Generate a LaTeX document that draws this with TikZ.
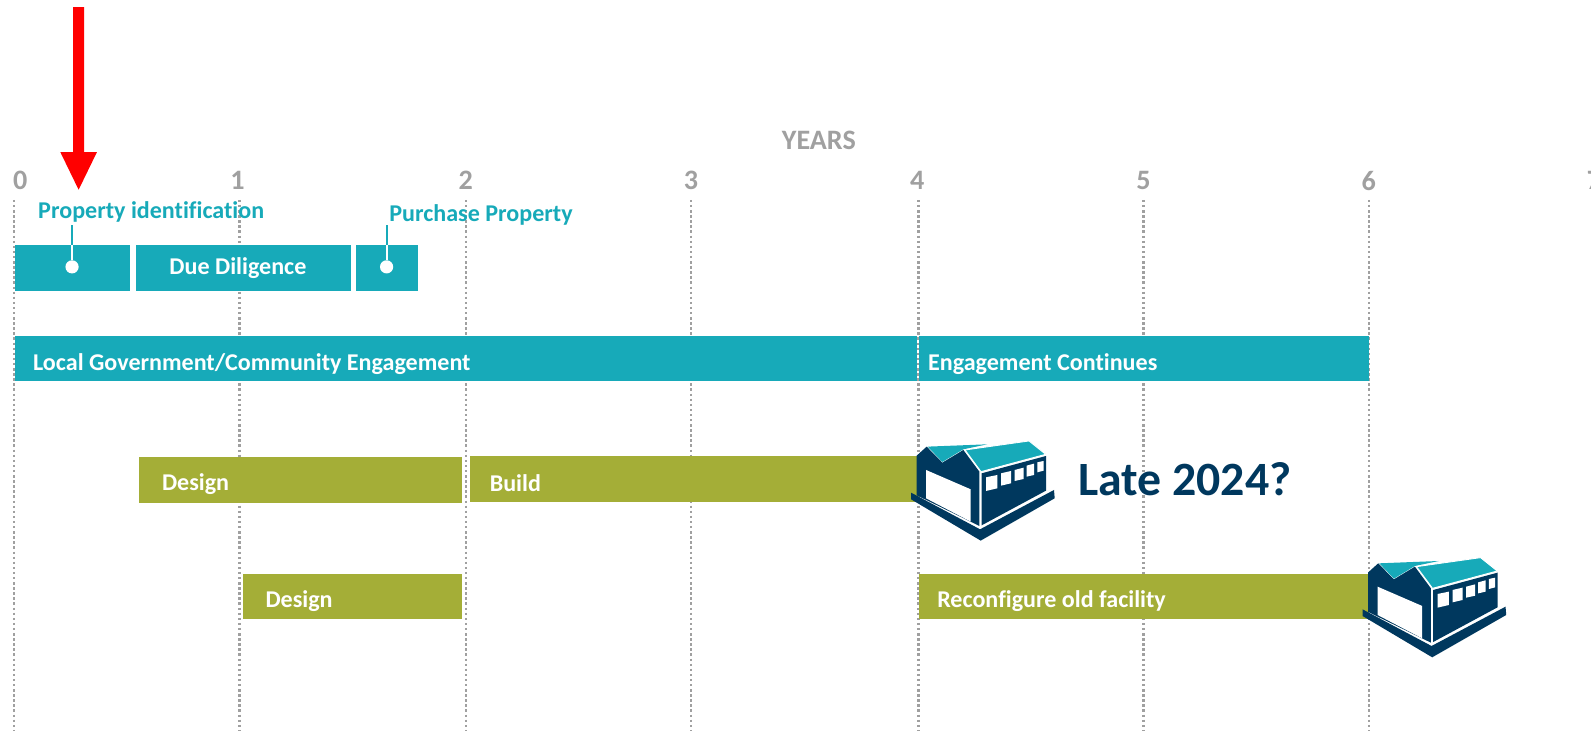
\documentclass[tikz,border=0pt]{standalone}
\usepackage{fontspec}
\setmainfont[Ligatures=NoCommon]{Carlito}
\usepackage{tikz}
\usetikzlibrary{positioning}
\definecolor{barteal}{RGB}{23,170,185}
\definecolor{barolive}{RGB}{164,174,55}
\definecolor{navyblue}{RGB}{0,56,94}
\definecolor{axisgray}{RGB}{160,160,160}
\def\px{0.010147cm}
\tikzset{
    tealbar/.style={rectangle, fill=barteal, inner sep=0, anchor=north west},
    olivebar/.style={rectangle, fill=barolive, inner sep=0, anchor=north west},
    barlabel/.style={text=white, font=\fontsize{6.85}{8}\selectfont\bfseries, inner sep=0, anchor=west},
    teallabel/.style={text=barteal, font=\fontsize{6.85}{8}\selectfont\bfseries, inner sep=0, anchor=west},
    axislabel/.style={text=axisgray, font=\fontsize{8}{9}\selectfont\bfseries, inner sep=0},
    gridline/.style={axisgray, line width=0.7pt, dash pattern=on 0.7pt off 0.75pt},
    leadline/.style={barteal, line width=0.6pt},
    dotmark/.style={circle, fill=white, inner sep=0, minimum size=13*\px},
    facility/.pic={
        \fill[navyblue] (93,218) -- (300,328) -- (522,210) -- (524,235) -- (302,362) -- (93,238) -- cycle;
        \fill[navyblue] (110,107) -- (140,80) -- (187,128) -- (250,90) -- (298,155) -- (298,318) -- (110,226) -- cycle;
        \fill[white] (138,150) -- (272,208) -- (272,305) -- (138,235) -- cycle;
        \fill[navyblue] (305,160) -- (498,108) -- (498,212) -- (305,316) -- cycle;
        \fill[white] (318,172) -- (352,165) -- (352,205) -- (318,213) -- cycle;
        \fill[white] (363,160) -- (393,153) -- (393,190) -- (363,197) -- cycle;
        \fill[white] (404,150) -- (431,143) -- (431,177) -- (404,183) -- cycle;
        \fill[white] (440,137) -- (462,131) -- (462,165) -- (440,170) -- cycle;
        \fill[white] (472,127) -- (491,123) -- (491,152) -- (472,157) -- cycle;
        \fill[barteal] (143,80) -- (322,73) -- (250,88) -- (187,126) -- cycle;
        \filldraw[fill=barteal, draw=white, line width=0.25pt] (255,90) -- (447,63) -- (497,103) -- (303,155) -- cycle;
    }
}
\begin{document}
\begin{tikzpicture}[x=\px, y=-\px]
            \useasboundingbox (0,0) rectangle (1568,720.4);

            % Years
            \node[axislabel] (years) at (807,138) {YEARS};
            \foreach \n/\xa in {0/20, 1/234, 2/459, 3/681, 4/904, 5/1127, 6/1349, 7/1571} {
                \node[axislabel] (year\n) at (\xa,178) {\n};
            }
            \foreach \n/\xb in {0/14, 1/236, 2/459, 3/681, 4/905, 5/1127, 6/1349} {
                \coordinate (top\n) at (\xb,197);
                \coordinate (bottom\n) at (\xb,720.4);
                \draw[gridline] (top\n) -- (bottom\n);
            }

            % Arrow
            \coordinate (arrowtip) at (77.5,187);
            \fill[red] (72,7) -- (83,7) -- (83,150) -- (95.5,150) -- (arrowtip) -- (59.5,150) -- (72,150) -- cycle;

            % Bars
            \node[tealbar, minimum width=114*\px, minimum height=45*\px] (search) at (13.7,240.7) {};
            \node[tealbar, minimum width=212*\px, minimum height=45*\px] (diligence) at (133.4,240.7) {};
            \node[tealbar, minimum width=61*\px, minimum height=45*\px] (purchase) at (350.5,240.7) {};
            \node[tealbar, minimum width=889*\px, minimum height=44.5*\px] (local) at (14.5,330.5) {};
            \node[tealbar, minimum width=443*\px, minimum height=44.5*\px] (continues) at (905.5,330.5) {};
            \node[olivebar, minimum width=318*\px, minimum height=45*\px] (design1) at (136.5,449.7) {};
            \node[olivebar, minimum width=442*\px, minimum height=45*\px] (build) at (462.6,449.2) {};
            \node[olivebar, minimum width=216*\px, minimum height=45*\px] (design2) at (238.5,564.7) {};
            \node[olivebar, minimum width=443*\px, minimum height=45*\px] (reconfigure) at (905.5,564.7) {};

            % Labels
            \node[barlabel, anchor=center] (diligencetext) at (234.5,264.5) {Due Diligence};
            \node[barlabel] (localtext) at (32,358.5) {Local Government/Community Engagement};
            \node[barlabel] (continuestext) at (914,358.5) {Engagement Continues};
            \node[barlabel] (design1text) at (159,477.5) {Design};
            \node[barlabel] (buildtext) at (482,476.5) {Build};
            \node[barlabel] (design2text) at (261,592.5) {Design};
            \node[barlabel] (reconfiguretext) at (923,592.5) {Reconfigure old facility};
            \node[teallabel] (searchtext) at (37,209) {Property identification};
            \node[teallabel] (purchasetext) at (383,212) {Purchase Property};
            \node[text=navyblue, font=\fontsize{13.6}{15}\selectfont\bfseries, inner sep=0, anchor=west] (latetext) at (1062,472) {Late 2024?};

            % Markers
            \node[dotmark] (searchdot) at (71,263) {};
            \node[dotmark] (purchasedot) at (381,263) {};
            \coordinate (searchend) at (71,222);
            \coordinate (purchaseend) at (381,222);
            \draw[leadline, barteal] (searchend) -- (71,241);
            \draw[leadline, white] (71,241) -- (searchdot);
            \draw[leadline, barteal] (purchaseend) -- (381,241);
            \draw[leadline, white] (381,241) -- (purchasedot);

            % Buildings
            \pic[scale=0.3285] at (867.3,413.9) {facility};
            \pic[scale=0.3285] at (1312.3,528.9) {facility};
        \end{tikzpicture}
\end{document}
